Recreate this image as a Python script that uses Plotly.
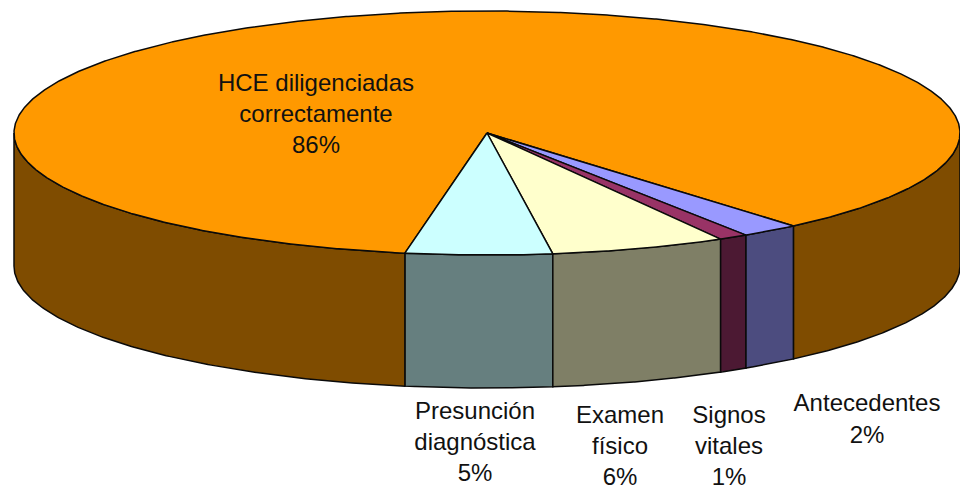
import numpy as np
import plotly.graph_objects as go

# Data
categories = ["HCE diligenciadas<br>correctamente", "Antecedentes", "Signos<br>vitales",
              "Examen<br>físico", "Presunción<br>diagnóstica"]
values = [86, 2, 1, 6, 5]

# Style
top_colors = ["#FF9900", "#9999FF", "#993366", "#FFFFCC", "#CCFFFF"]
side_colors = ["#7F4C00", "#4C4C7F", "#4C1933", "#7F7F66", "#667F7F"]
label_x = [316, 867, 729, 620, 475]
label_y = [116, 421, 448, 448, 444]

# Pie geometry in page pixels
CX, CY, RX, RY, DEPTH = 487, 133, 473, 122, 133
START = 350.0  # angle measured from the front of the pie, towards the right


def rim(a):
    a = np.radians(a)
    return CX + RX * np.sin(a), CY + RY * np.cos(a)


fig = go.Figure()
LINE = dict(color="#0a0a0a", width=1.5)


def poly(x, y, color):
    fig.add_trace(go.Scatter(x=x, y=y, mode="lines", fill="toself", fillcolor=color,
                             line=LINE, hoverinfo="skip", showlegend=False))


# angular spans: largest slice starts after the others, going clockwise from the front
fractions = np.array(values, dtype=float) / sum(values) * 360
order = [4, 3, 2, 1, 0]
spans = {}
a0 = START
for i in order:
    spans[i] = (a0, a0 + fractions[i])
    a0 += fractions[i]

# side walls: only the front half of the rim (-90..90) is visible
for i in order:
    s, e = spans[i]
    for k in (-720, -360, 0):
        lo2, hi2 = max(s + k, -90), min(e + k, 90)
        if hi2 > lo2:
            ang = np.linspace(lo2, hi2, 160)
            x, y = rim(ang)
            poly(np.r_[x, x[::-1], x[0]], np.r_[y, y[::-1] + DEPTH, y[0]], side_colors[i])

# top faces
for i in [0, 1, 2, 3, 4]:
    s, e = spans[i]
    ang = np.linspace(s, e, max(8, int((e - s) * 4)))
    x, y = rim(ang)
    poly(np.r_[CX, x, CX], np.r_[CY, y, CY], top_colors[i])

# labels
fig.add_trace(go.Scatter(
    x=label_x, y=label_y, mode="text",
    text=[f"{c}<br>{v}%" for c, v in zip(categories, values)],
    textposition="middle center",
    textfont=dict(family="Liberation Sans, Arial, sans-serif", size=24, color="#111111"),
    hoverinfo="skip", showlegend=False, cliponaxis=False))

fig.update_layout(
    width=960, height=490, margin=dict(l=0, r=0, t=0, b=0),
    paper_bgcolor="white", plot_bgcolor="white",
    xaxis=dict(range=[0, 960], visible=False, fixedrange=True),
    yaxis=dict(range=[490, 0], visible=False, fixedrange=True),
)
fig.write_html("out.html", config={"displayModeBar": False},
               post_script="document.body.style.margin='0';document.body.style.overflow='hidden';")
